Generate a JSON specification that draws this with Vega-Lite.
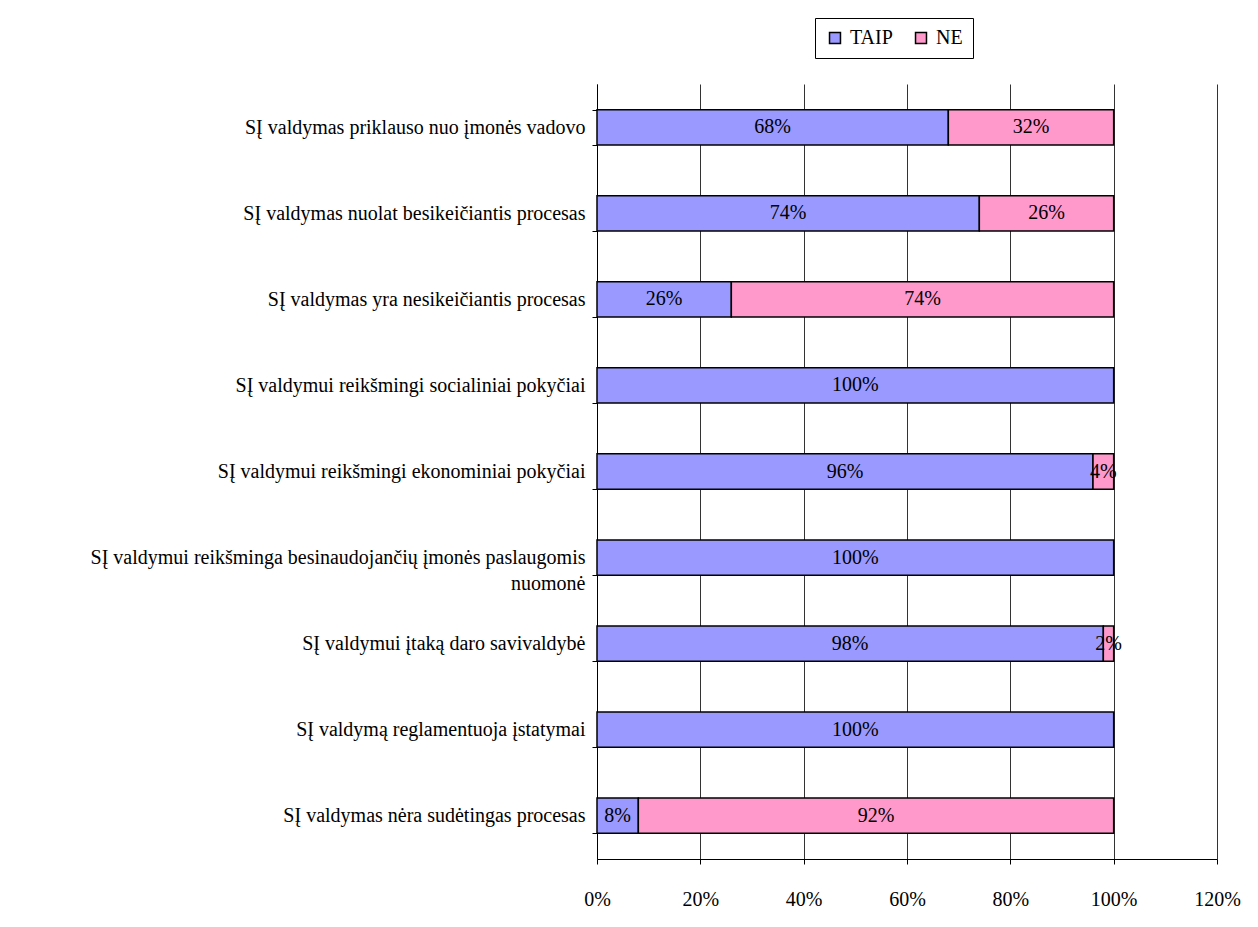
{
  "$schema": "https://vega.github.io/schema/vega-lite/v6.json",
  "autosize": "none",
  "width": 620,
  "height": 775,
  "padding": {"left": 597, "top": 84, "right": 41, "bottom": 68},
  "background": "white",
  "data": {
    "values": [
      {"q": "SĮ valdymas priklauso nuo įmonės vadovo", "answer": "TAIP", "value": 0.68},
      {"q": "SĮ valdymas priklauso nuo įmonės vadovo", "answer": "NE", "value": 0.32},
      {"q": "SĮ valdymas nuolat besikeičiantis procesas", "answer": "TAIP", "value": 0.74},
      {"q": "SĮ valdymas nuolat besikeičiantis procesas", "answer": "NE", "value": 0.26},
      {"q": "SĮ valdymas yra nesikeičiantis procesas", "answer": "TAIP", "value": 0.26},
      {"q": "SĮ valdymas yra nesikeičiantis procesas", "answer": "NE", "value": 0.74},
      {"q": "SĮ valdymui reikšmingi socialiniai pokyčiai", "answer": "TAIP", "value": 1.0},
      {"q": "SĮ valdymui reikšmingi ekonominiai pokyčiai", "answer": "TAIP", "value": 0.96},
      {"q": "SĮ valdymui reikšmingi ekonominiai pokyčiai", "answer": "NE", "value": 0.04},
      {"q": "SĮ valdymui reikšminga besinaudojančių įmonės paslaugomis|nuomonė", "answer": "TAIP", "value": 1.0},
      {"q": "SĮ valdymui įtaką daro savivaldybė", "answer": "TAIP", "value": 0.98},
      {"q": "SĮ valdymui įtaką daro savivaldybė", "answer": "NE", "value": 0.02},
      {"q": "SĮ valdymą reglamentuoja  įstatymai", "answer": "TAIP", "value": 1.0},
      {"q": "SĮ valdymas nėra sudėtingas procesas", "answer": "TAIP", "value": 0.08},
      {"q": "SĮ valdymas nėra sudėtingas procesas", "answer": "NE", "value": 0.92}
    ]
  },
  "transform": [
    {"stack": "value", "groupby": ["q"], "sort": [{"field": "answer", "order": "descending"}], "as": ["v0", "v1"]},
    {"calculate": "(datum.v0 + datum.v1) / 2", "as": "mid"}
  ],
  "encoding": {
    "y": {
      "field": "q",
      "type": "nominal",
      "sort": null,
      "scale": {"paddingInner": 0.59, "paddingOuter": 0.3},
      "axis": {
        "title": null,
        "labelExpr": "split(datum.label, '|')",
        "labelFont": "Liberation Serif",
        "labelFontSize": 20,
        "labelColor": "black",
        "labelPadding": 7,
        "labelLimit": 700,
        "labelLineHeight": 26,
        "tickBand": "extent",
        "tickSize": 5,
        "tickColor": "black",
        "domainColor": "black",
        "grid": false
      }
    }
  },
  "layer": [
    {
      "mark": {"type": "bar", "stroke": "black", "strokeWidth": 1.5},
      "encoding": {
        "x": {
          "field": "v0",
          "type": "quantitative",
          "scale": {"domain": [0, 1.2]},
          "axis": {
            "title": null,
            "format": "%",
            "values": [0, 0.2, 0.4, 0.6, 0.8, 1.0, 1.2],
            "labelFont": "Liberation Serif",
            "labelFontSize": 20,
            "labelColor": "black",
            "labelPadding": 25,
            "labelFlush": false,
            "tickSize": 5,
            "tickColor": "black",
            "domainColor": "black",
            "grid": true,
            "gridColor": "#333333",
            "gridWidth": 1
          }
        },
        "x2": {"field": "v1"},
        "color": {
          "field": "answer",
          "type": "nominal",
          "scale": {"domain": ["TAIP", "NE"], "range": ["#9999FF", "#FF99CC"]},
          "legend": {
            "title": null,
            "orient": "none",
            "legendX": 218,
            "legendY": -66,
            "direction": "horizontal",
            "symbolType": "square",
            "symbolSize": 120,
            "symbolStrokeColor": "black",
            "symbolStrokeWidth": 1.5,
            "symbolOpacity": 1,
            "labelFont": "Liberation Serif",
            "labelFontSize": 20,
            "labelColor": "black",
            "labelOffset": 5,
            "columnPadding": 18,
            "strokeColor": "black",
            "padding": 10,
            "fillColor": "white"
          }
        }
      }
    },
    {
      "mark": {"type": "text", "font": "Liberation Serif", "fontSize": 20, "color": "black", "align": "center", "baseline": "middle"},
      "encoding": {
        "x": {"field": "mid", "type": "quantitative"},
        "text": {"field": "value", "type": "quantitative", "format": ".0%"}
      }
    }
  ],
  "config": {
    "view": {"stroke": null}
  }
}
